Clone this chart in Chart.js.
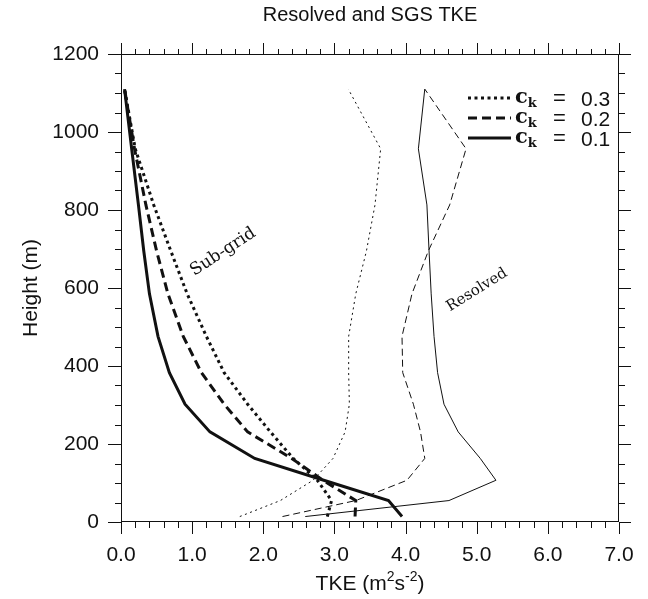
<!DOCTYPE html>
<html>
<head>
<meta charset="utf-8">
<title>Resolved and SGS TKE</title>
<script src="https://cdn.jsdelivr.net/npm/chart.js@4"></script>
<style>
  body { margin: 0; background: #fff; }
  canvas { display: block; }
</style>
</head>
<body>
<canvas id="tke" width="648" height="599"></canvas>
<script>
// model levels (m) shared by all profiles
const heights = [14, 55, 107, 163, 231, 302, 383, 476, 585, 695, 813, 957, 1110];

// sub-grid TKE (thick lines)
const sgsCk03 = [2.90, 2.96, 2.76, 2.42, 2.10, 1.78, 1.45, 1.20, 0.93, 0.70, 0.46, 0.20, 0.05];
const sgsCk02 = [3.29, 3.30, 2.84, 2.40, 1.78, 1.45, 1.13, 0.875, 0.66, 0.50, 0.35, 0.19, 0.05];
const sgsCk01 = [3.95, 3.76, 2.85, 1.88, 1.25, 0.90, 0.68, 0.52, 0.40, 0.32, 0.245, 0.15, 0.05];

// resolved TKE (thin lines)
const resCk03 = [1.67, 2.24, 2.70, 2.98, 3.15, 3.21, 3.20, 3.20, 3.30, 3.45, 3.57, 3.65, 3.195];
const resCk02 = [2.27, 3.30, 4.02, 4.27, 4.21, 4.11, 3.96, 3.95, 4.09, 4.32, 4.62, 4.85, 4.27];
const resCk01 = [2.59, 4.61, 5.27, 5.05, 4.74, 4.54, 4.45, 4.40, 4.36, 4.33, 4.30, 4.18, 4.27];

const xTicks = [0, 1, 2, 3, 4, 5, 6, 7];
const yTicks = [0, 200, 400, 600, 800, 1000, 1200];
const legendLabels = ["0.3", "0.2", "0.1"];

const DOT = [3, 3.5];
const DASH = [9, 5];

function profile(xs) {
  return xs.map((v, i) => ({ x: v, y: heights[i] }));
}

function line(xs, width, dash) {
  return {
    data: profile(xs),
    borderColor: "#111",
    borderWidth: width,
    borderDash: dash,
    pointRadius: 0,
    tension: 0,
    fill: false
  };
}

// frame, minor ticks, titles, legend and curve labels
const decorations = {
  id: "decorations",
  beforeDraw(chart) {
    const ctx = chart.ctx;
    ctx.save();
    ctx.fillStyle = "#fff";
    ctx.fillRect(0, 0, chart.width, chart.height);
    ctx.restore();
  },
  afterDraw(chart) {
    const { ctx, chartArea: a, scales } = chart;
    const sx = scales.x, sy = scales.y;
    ctx.save();
    ctx.strokeStyle = "#111";
    ctx.lineWidth = 1;
    ctx.setLineDash([]);
    ctx.strokeRect(a.left + 0.5, a.top + 0.5, a.right - a.left - 1, a.bottom - a.top - 1);

    ctx.beginPath();
    for (let i = 0; i <= 35; i++) {
      const v = i / 5;
      const major = i % 5 === 0;
      const px = Math.round(sx.getPixelForValue(v)) + 0.5;
      ctx.moveTo(px, a.bottom);
      ctx.lineTo(px, a.bottom + (major ? 12 : 6));
      ctx.moveTo(px, a.top);
      ctx.lineTo(px, a.top - (major ? 11 : 5));
    }
    for (let i = 0; i <= 24; i++) {
      const v = i * 50;
      const major = i % 4 === 0;
      const py = Math.round(sy.getPixelForValue(v)) + 0.5;
      ctx.moveTo(a.left, py);
      ctx.lineTo(a.left - (major ? 13 : 6), py);
      ctx.moveTo(a.right, py);
      ctx.lineTo(a.right + (major ? 12 : 6), py);
    }
    ctx.stroke();

    ctx.fillStyle = "#111";
    ctx.textAlign = "center";
    ctx.textBaseline = "alphabetic";
    const cx = (a.left + a.right) / 2;

    // title
    ctx.font = "20px 'Liberation Sans', Arial, sans-serif";
    ctx.fillText("Resolved and SGS TKE", cx, 21);

    // x title with superscripts
    const big = "21px 'Liberation Sans', Arial, sans-serif";
    const sup = "14px 'Liberation Sans', Arial, sans-serif";
    const parts = [["TKE (m", big, 0], ["2", sup, -9], ["s", big, 0], ["-2", sup, -9], [")", big, 0]];
    let total = 0;
    parts.forEach(p => { ctx.font = p[1]; total += ctx.measureText(p[0]).width; });
    let tx = cx - total / 2;
    ctx.textAlign = "left";
    parts.forEach(p => {
      ctx.font = p[1];
      ctx.fillText(p[0], tx, 590 + p[2]);
      tx += ctx.measureText(p[0]).width;
    });

    // y title
    ctx.save();
    ctx.translate(37, (a.top + a.bottom) / 2);
    ctx.rotate(-Math.PI / 2);
    ctx.textAlign = "center";
    ctx.font = big;
    ctx.fillText("Height (m)", 0, 0);
    ctx.restore();

    // legend
    const styles = [DOT, DASH, []];
    legendLabels.forEach((lab, i) => {
      const ly = 98 + i * 20;
      ctx.beginPath();
      ctx.lineWidth = 3;
      ctx.setLineDash(styles[i]);
      ctx.moveTo(468, ly);
      ctx.lineTo(511, ly);
      ctx.stroke();
      ctx.setLineDash([]);
      ctx.textAlign = "left";
      ctx.font = "bold 21px 'DejaVu Serif', serif";
      ctx.fillText("c", 515, ly + 5);
      const cw = ctx.measureText("c").width;
      ctx.font = "bold 13px 'DejaVu Serif', serif";
      ctx.fillText("k", 515 + cw, ly + 9);
      ctx.font = "22px 'Liberation Sans', Arial, sans-serif";
      ctx.fillText("=", 553, ly + 7);
      ctx.font = "21px 'Liberation Sans', Arial, sans-serif";
      ctx.fillText(lab, 581, ly + 8);
    });

    // curve labels
    ctx.textAlign = "center";
    ctx.textBaseline = "middle";
    [["Sub-grid", 223, 252, -33, 17], ["Resolved", 477, 290, -32, 15]].forEach(t => {
      ctx.save();
      ctx.font = t[4] + "px 'DejaVu Serif', serif";
      ctx.translate(t[1], t[2]);
      ctx.rotate(t[3] * Math.PI / 180);
      ctx.fillText(t[0], 0, 0);
      ctx.restore();
    });
    ctx.restore();
  }
};

new Chart(document.getElementById("tke").getContext("2d"), {
  type: "line",
  data: {
    datasets: [
      line(sgsCk03, 3, DOT),
      line(sgsCk02, 3, DASH),
      line(sgsCk01, 3, []),
      line(resCk03, 1, [2, 3.5]),
      line(resCk02, 1, [7, 4]),
      line(resCk01, 1, [])
    ]
  },
  options: {
    responsive: false,
    animation: false,
    devicePixelRatio: 1,
    layout: { padding: { top: 54, right: 29, left: 0, bottom: 0 } },
    plugins: { legend: { display: false }, tooltip: { enabled: false }, title: { display: false } },
    scales: {
      x: {
        type: "linear",
        min: 0, max: 7,
        afterFit: s => { s.height = 77; },
        afterBuildTicks: s => { s.ticks = xTicks.map(v => ({ value: v })); },
        grid: { display: false },
        border: { display: false },
        ticks: {
          padding: 13,
          color: "#111",
          font: { family: "'Liberation Sans', Arial, sans-serif", size: 21 },
          maxRotation: 0,
          callback: v => v.toFixed(1)
        }
      },
      y: {
        type: "linear",
        min: 0, max: 1200,
        afterFit: s => { s.width = 121; },
        afterBuildTicks: s => { s.ticks = yTicks.map(v => ({ value: v })); },
        grid: { display: false },
        border: { display: false },
        ticks: {
          padding: 14,
          color: "#111",
          font: { family: "'Liberation Sans', Arial, sans-serif", size: 21 },
          callback: v => String(v)
        }
      }
    }
  },
  plugins: [decorations]
});
</script>
</body>
</html>
